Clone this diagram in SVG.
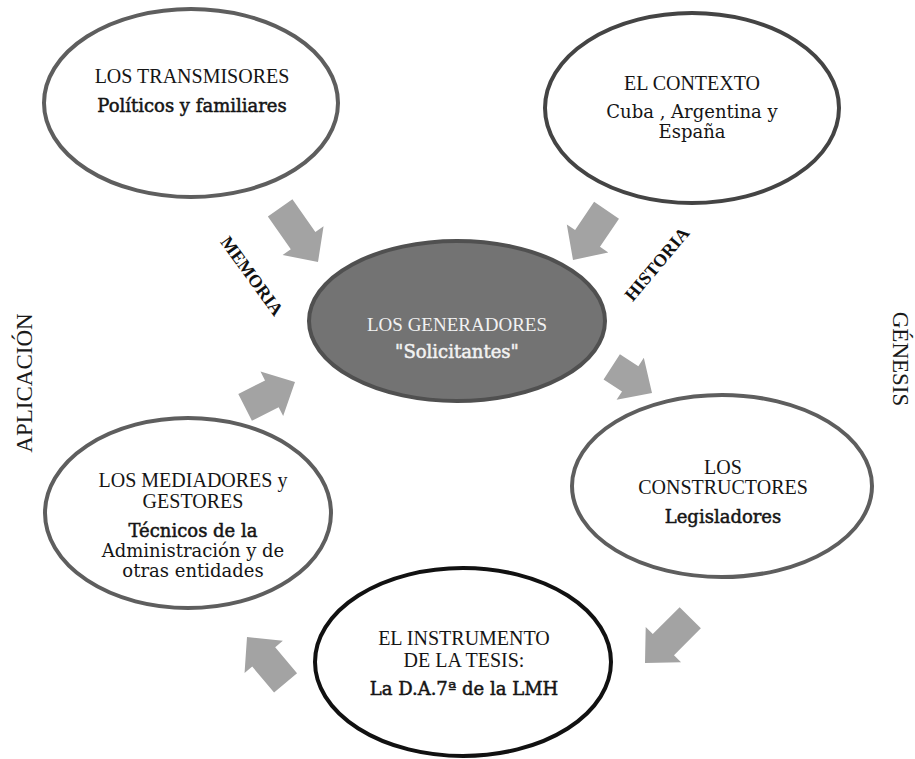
<svg xmlns="http://www.w3.org/2000/svg" width="915" height="759" viewBox="0 0 915 759">
  <defs>
    <style>
      .node { fill: #ffffff; stroke: #5e5e5e; stroke-width: 4; }
      .node-dark { fill: #737373; stroke: #505050; stroke-width: 4; }
      .node-black { fill: #ffffff; stroke: #111111; stroke-width: 4; }
      .title { font-family: "Liberation Serif", "Times New Roman", serif; font-size: 20px; fill: #151515; text-anchor: middle; }
      .sub { font-family: "DejaVu Serif", Georgia, serif; font-size: 18px; fill: #151515; text-anchor: middle; }
      .subb { font-family: "DejaVu Serif", Georgia, serif; font-size: 18px; fill: #151515; stroke: #151515; stroke-width: 0.5; text-anchor: middle; }
      .light { fill: #f2f2f2; }
      .lbl { font-family: "Liberation Serif", "Times New Roman", serif; font-size: 18px; font-weight: bold; fill: #111111; text-anchor: middle; }
      .side { font-family: "Liberation Serif", "Times New Roman", serif; font-size: 23px; fill: #1a1a1a; text-anchor: middle; }
      .arrow { fill: #a3a3a3; }
    </style>
  </defs>

  <!-- block arrows (connectors) -->
  <g id="connectors">
    <path class="arrow" transform="translate(318,262) rotate(55)" d="M0,0 L-26,-25 L-26,-15 L-66,-15 L-66,15 L-26,15 L-26,25 Z"/>
    <path class="arrow" transform="translate(573,260) rotate(124)" d="M0,0 L-26,-25 L-26,-15 L-60,-15 L-60,15 L-26,15 L-26,25 Z"/>
    <path class="arrow" transform="translate(652,393) rotate(33)" d="M0,0 L-26,-25 L-26,-15 L-48,-15 L-48,15 L-26,15 L-26,25 Z"/>
    <path class="arrow" transform="translate(295,382) rotate(-27)" d="M0,0 L-26,-25 L-26,-15 L-56,-15 L-56,15 L-26,15 L-26,25 Z"/>
    <path class="arrow" transform="translate(645,663) rotate(135)" d="M0,0 L-26,-25 L-26,-15 L-64,-15 L-64,15 L-26,15 L-26,25 Z"/>
    <path class="arrow" transform="translate(247,637) rotate(230)" d="M0,0 L-26,-25 L-26,-15 L-60,-15 L-60,15 L-26,15 L-26,25 Z"/>
  </g>

  <g id="transmisores">
    <ellipse class="node" cx="191" cy="103" rx="147" ry="94"/>
    <text class="title" x="192" y="83">LOS TRANSMISORES</text>
    <text class="subb" x="192" y="112">Políticos y familiares</text>
  </g>

  <g id="contexto">
    <ellipse class="node" cx="692" cy="108" rx="147" ry="95" style="stroke:#444"/>
    <text class="title" x="692" y="90">EL CONTEXTO</text>
    <text class="sub" x="692" y="118">Cuba , Argentina y</text>
    <text class="sub" x="692" y="138">España</text>
  </g>

  <g id="generadores">
    <ellipse class="node-dark" cx="457" cy="321" rx="148" ry="80"/>
    <text class="title light" x="457" y="331" style="font-size:19px">LOS GENERADORES</text>
    <text class="subb light" x="457" y="358" style="stroke:#f2f2f2">"Solicitantes"</text>
  </g>

  <g id="constructores">
    <ellipse class="node" cx="722" cy="486" rx="150" ry="91"/>
    <text class="title" x="723" y="474">LOS</text>
    <text class="title" x="723" y="494">CONSTRUCTORES</text>
    <text class="subb" x="723" y="523">Legisladores</text>
  </g>

  <g id="instrumento">
    <ellipse class="node-black" cx="463" cy="662" rx="148" ry="94"/>
    <text class="title" x="464" y="645">EL INSTRUMENTO</text>
    <text class="title" x="464" y="667">DE LA TESIS:</text>
    <text class="subb" x="464" y="695">La D.A.7ª de la LMH</text>
  </g>

  <g id="mediadores">
    <ellipse class="node" cx="188" cy="513" rx="143" ry="95"/>
    <text class="title" x="193" y="487">LOS MEDIADORES y</text>
    <text class="title" x="193" y="508">GESTORES</text>
    <text class="subb" x="193" y="537">Técnicos de la</text>
    <text class="sub" x="193" y="557">Administración y de</text>
    <text class="sub" x="193" y="577">otras entidades</text>
  </g>

  <!-- flow labels -->
  <g id="labels">
    <text class="lbl" transform="translate(252,276) rotate(54)" y="6">MEMORIA</text>
    <text class="lbl" transform="translate(657,264) rotate(-50)" y="6">HISTORIA</text>
    <text class="side" transform="translate(32,383) rotate(-90)">APLICACIÓN</text>
    <text class="side" transform="translate(893,359) rotate(90)">GÉNESIS</text>
  </g>
</svg>
